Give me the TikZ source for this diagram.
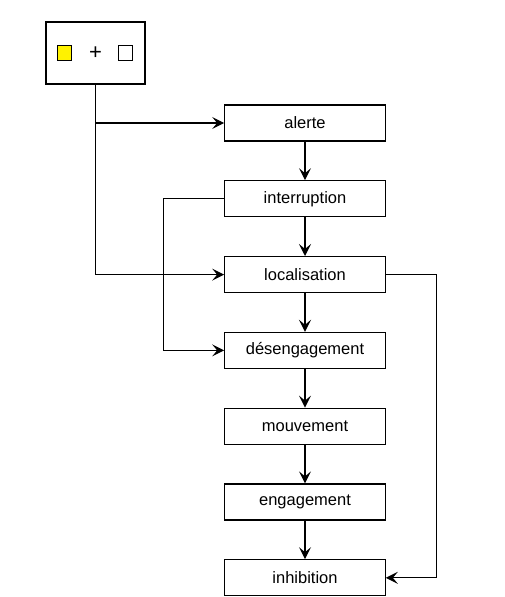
\documentclass[tikz,border=0pt]{standalone}
\usepackage{fontspec}
\setmainfont{Liberation Sans}
\usetikzlibrary{arrows.meta,positioning}

\begin{document}
\begin{tikzpicture}
[
	x=1pt, y=-1pt,
	phase/.style = {rectangle, draw, line width=1.2pt, minimum width=160.5pt, minimum height=36pt, inner sep=0pt, font=\fontsize{16.5}{18}\selectfont},
	group/.style = {rectangle, draw, line width=1.2pt, minimum width=99pt, minimum height=62pt},
	square/.style = {rectangle, draw, line width=1pt, minimum width=14pt, minimum height=15pt, inner sep=0pt},
	arrow/.style = {-{Stealth[length=12pt, width=12pt, inset=5pt]}, line width=1.2pt},
	line/.style = {-, line width=1.2pt}
]
\useasboundingbox (0,0) rectangle (504,597);

\node[group] (start) at (95.5,53) {};
\node[square, fill=yellow] (yellowsq) at ([xshift=-31pt] start.center) {};
\node[font=\fontsize{22}{24}\selectfont, inner sep=0pt] (plus) at (start.center) {+};
\node[square, fill=white] (whitesq) at ([xshift=30pt] start.center) {};

\node[phase] (alerte) at (305,123) {alerte};
\node[phase, below = 38.6pt of alerte] (interruption) {interruption};
\node[phase, below = 38.6pt of interruption] (localisation) {localisation};
\node[phase, below = 38.6pt of localisation] (desengagement) {désengagement};
\node[phase, below = 38.6pt of desengagement] (mouvement) {mouvement};
\node[phase, below = 38.6pt of mouvement] (engagement) {engagement};
\node[phase, below = 38.6pt of engagement] (inhibition) {inhibition};

\draw[arrow] (start.south) |- (alerte.west);
\draw[arrow] (start.south) |- (localisation.west);
\draw[arrow] (alerte) -- (interruption);
\draw[arrow] (interruption) -- (localisation);
\draw[arrow] (localisation) -- (desengagement);
\draw[arrow] (desengagement) -- (mouvement);
\draw[arrow] (mouvement) -- (engagement);
\draw[arrow] (engagement) -- (inhibition);
\draw[arrow] (interruption.west) -- ++(-61,0) |- (desengagement.west);
\draw[arrow] (localisation.east) -- ++(51,0) |- (inhibition.east);

\end{tikzpicture}
\end{document}
